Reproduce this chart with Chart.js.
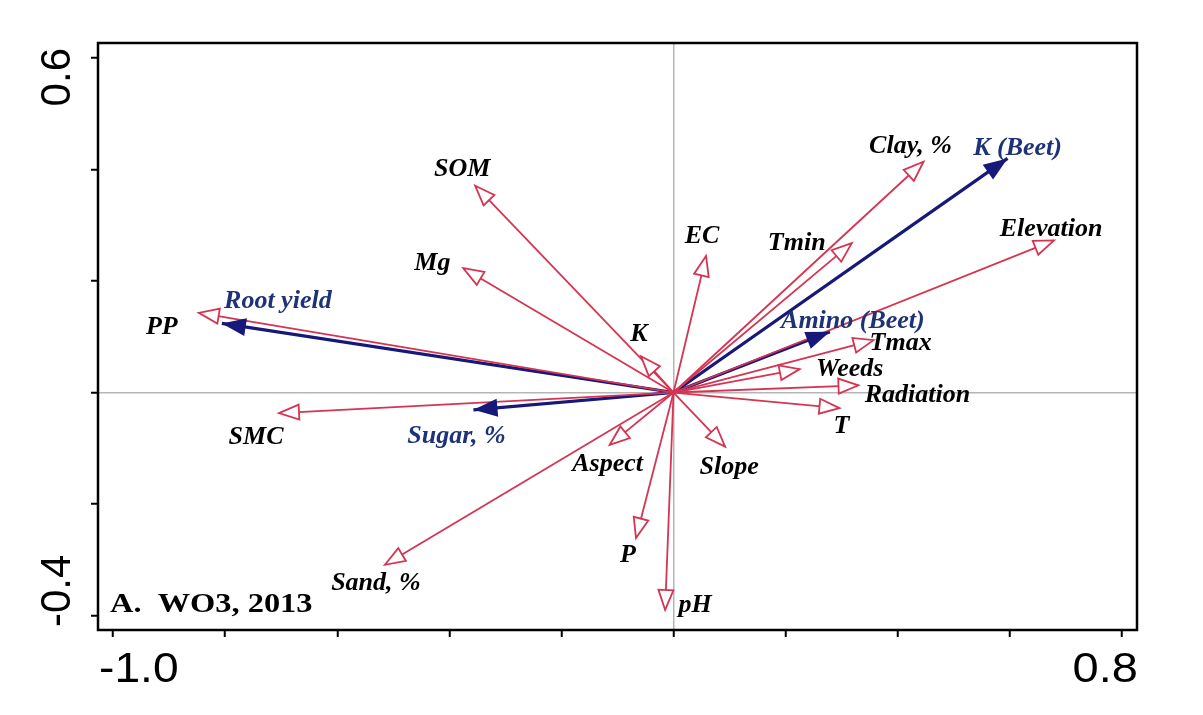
<!DOCTYPE html>
<html>
<head>
<meta charset="utf-8">
<script src="https://cdn.jsdelivr.net/npm/chart.js@4.4.1/dist/chart.umd.min.js"></script>
<style>
  body { margin: 0; background: #fff; }
  canvas { display: block; }
</style>
</head>
<body>
<canvas id="rda" width="1203" height="715"></canvas>
<script>
// environmental variables (red, open heads)
const envNames = ["PP", "SMC", "SOM", "Mg", "K", "EC", "Tmin", "Clay, %", "Elevation", "Tmax",
                  "Weeds", "Radiation", "T", "Slope", "Aspect", "P", "pH", "Sand, %"];
const envX = [-0.847, -0.704, -0.354, -0.375, -0.058, 0.058, 0.318, 0.446, 0.679, 0.357,
              0.225, 0.330, 0.296, 0.092, -0.114, -0.067, -0.015, -0.515];
const envY = [0.143, -0.037, 0.371, 0.223, 0.065, 0.245, 0.268, 0.414, 0.273, 0.094,
              0.042, 0.013, -0.028, -0.097, -0.094, -0.261, -0.390, -0.309];

// beet responses (blue, filled heads)
const respNames = ["Root yield", "Sugar, %", "K (Beet)", "Amino (Beet)"];
const respX = [-0.806, -0.357, 0.596, 0.279];
const respY = [0.124, -0.031, 0.420, 0.109];

const xTicks = [-1.0, -0.8, -0.6, -0.4, -0.2, 0.0, 0.2, 0.4, 0.6, 0.8];
const yTicks = [-0.4, -0.2, 0.0, 0.2, 0.4, 0.6];
const panelTitle = "A.  WO3, 2013";

// label offsets from arrow tip, pixels (layout only)
const envLabelOff = [[-37, 14], [-23, 24], [-13, -16], [-31, -5], [-2, -22], [-4, -20], [-55, 0],
                     [-13, -15], [-3, -11], [27, 3], [50, 0], [59, 10], [2, 18], [4, 21],
                     [-2, 19], [-8, 17], [30, -5], [-9, 19]];
const respLabelOff = [[56, -22], [-17, 26], [10, -10], [23, -10]];

const RED = "#d43552";
const NAVY = "#16187a";
const BLUE_TXT = "#1d3278";

function makeSet(name, x, y, off, isResp) {
  return {
    label: name,
    data: [{ x: 0, y: 0 }, { x: x, y: y }],
    showLine: true,
    borderColor: isResp ? NAVY : RED,
    borderWidth: isResp ? 3.2 : 1.8,
    pointRadius: 0,
    tension: 0,
    resp: isResp,
    off: off
  };
}

const datasets = [];
envNames.forEach((n, i) => datasets.push(makeSet(n, envX[i], envY[i], envLabelOff[i], false)));
respNames.forEach((n, i) => datasets.push(makeSet(n, respX[i], respY[i], respLabelOff[i], true)));

function stretchedText(ctx, text, x, y, sx) {
  ctx.save();
  ctx.translate(x, y);
  ctx.scale(sx, 1);
  ctx.fillText(text, 0, 0);
  ctx.restore();
}

const arrowPlugin = {
  id: "arrows",
  afterDatasetsDraw(chart) {
    const ctx = chart.ctx;
    const xs = chart.scales.x, ys = chart.scales.y;
    const ox = xs.getPixelForValue(0), oy = ys.getPixelForValue(0);
    ctx.save();
    chart.data.datasets.forEach(ds => {
      const p = ds.data[1];
      const tx = xs.getPixelForValue(p.x), ty = ys.getPixelForValue(p.y);
      const a = Math.atan2(ty - oy, tx - ox);
      const len = ds.resp ? 24 : 20;
      const w = ds.resp ? 9 : 7.5;
      const bx = tx - len * Math.cos(a), by = ty - len * Math.sin(a);
      const px = -Math.sin(a) * w, py = Math.cos(a) * w;
      ctx.beginPath();
      ctx.moveTo(tx, ty);
      ctx.lineTo(bx + px, by + py);
      ctx.lineTo(bx - px, by - py);
      ctx.closePath();
      ctx.lineJoin = "miter";
      if (ds.resp) {
        ctx.fillStyle = NAVY;
        ctx.fill();
      } else {
        ctx.fillStyle = "#fff";
        ctx.fill();
        ctx.strokeStyle = RED;
        ctx.lineWidth = 1.8;
        ctx.stroke();
      }
    });
    // labels
    ctx.font = "bold italic 26px 'Liberation Serif'";
    ctx.textAlign = "center";
    ctx.textBaseline = "middle";
    chart.data.datasets.forEach(ds => {
      const p = ds.data[1];
      const tx = xs.getPixelForValue(p.x), ty = ys.getPixelForValue(p.y);
      ctx.fillStyle = ds.resp ? BLUE_TXT : "#000";
      ctx.fillText(ds.label, tx + ds.off[0], ty + ds.off[1]);
    });
    ctx.restore();
  },
  afterDraw(chart) {
    const ctx = chart.ctx;
    const area = chart.chartArea;
    ctx.save();
    ctx.strokeStyle = "#000";
    ctx.lineWidth = 2.5;
    ctx.strokeRect(area.left, area.top, area.right - area.left, area.bottom - area.top);

    // end tick labels
    ctx.fillStyle = "#000";
    ctx.font = "42px 'Liberation Sans'";
    ctx.textBaseline = "middle";
    ctx.textAlign = "left";
    stretchedText(ctx, xTicks[0].toFixed(1), area.left + 1, 670, 1.1);
    ctx.textAlign = "right";
    stretchedText(ctx, xTicks[xTicks.length - 1].toFixed(1), area.right + 1, 670, 1.12);

    ctx.translate(58, 0);
    ctx.rotate(-Math.PI / 2);
    ctx.textAlign = "right";
    ctx.fillText(yTicks[yTicks.length - 1].toFixed(1), -(area.top + 5), 0);
    ctx.textAlign = "left";
    ctx.fillText(yTicks[0].toFixed(1), -(area.bottom - 3), 0);
    ctx.restore();

    // panel title
    ctx.save();
    ctx.font = "bold 27px 'Liberation Serif'";
    ctx.fillStyle = "#000";
    ctx.textAlign = "left";
    ctx.textBaseline = "alphabetic";
    stretchedText(ctx, panelTitle, area.left + 12, 612, 1.2);
    ctx.restore();
  }
};

function zeroGrid(c) {
  return c.tick && Math.abs(c.tick.value) < 1e-9 ? "#b5b5b5" : "rgba(0,0,0,0)";
}

new Chart(document.getElementById("rda"), {
  type: "scatter",
  data: { datasets: datasets },
  options: {
    responsive: false,
    animation: false,
    layout: { padding: { top: 43, right: 66, left: 0, bottom: 0 } },
    plugins: { legend: { display: false }, tooltip: { enabled: false } },
    scales: {
      x: {
        type: "linear",
        min: -1.027,
        max: 0.827,
        afterBuildTicks: s => { s.ticks = xTicks.map(v => ({ value: v })); },
        afterFit: s => { s.height = 85; },
        ticks: { display: false },
        border: { display: false },
        grid: { color: zeroGrid, lineWidth: 1.5, tickColor: "#000", tickLength: 7, tickWidth: 2 }
      },
      y: {
        type: "linear",
        min: -0.426,
        max: 0.627,
        afterBuildTicks: s => { s.ticks = yTicks.map(v => ({ value: v })); },
        afterFit: s => { s.width = 98; },
        ticks: { display: false },
        border: { display: false },
        grid: { color: zeroGrid, lineWidth: 1.5, tickColor: "#000", tickLength: 7, tickWidth: 2 }
      }
    }
  },
  plugins: [arrowPlugin]
});
</script>
</body>
</html>
